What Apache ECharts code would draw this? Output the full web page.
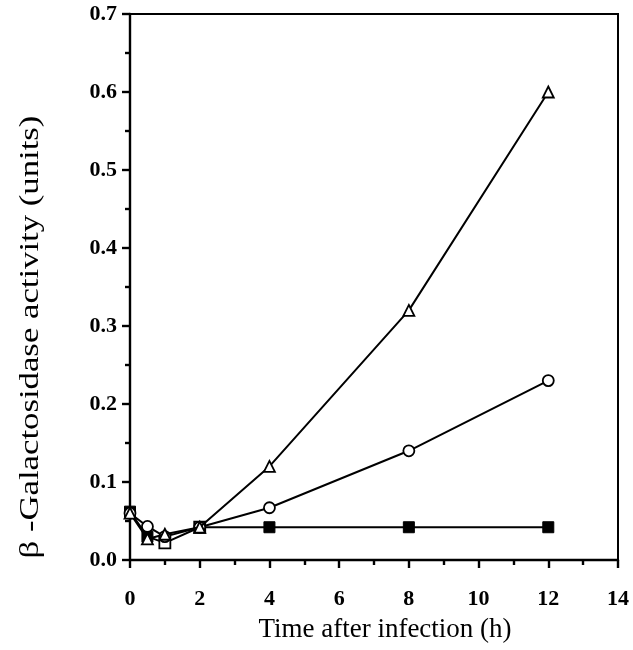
<!DOCTYPE html>
<html><head><meta charset="utf-8">
<script src="https://cdn.jsdelivr.net/npm/echarts@6/dist/echarts.min.js"></script>
<style>html,body{margin:0;padding:0;background:#fff}#c{width:633px;height:650px}</style>
</head><body><div id="c"></div>
<script>
const times = [0, 0.5, 1, 2, 4, 8, 12];
const triangleVals = [0.06, 0.027, 0.033, 0.042, 0.12, 0.32, 0.60];
const circleVals = [0.06, 0.043, 0.030, 0.042, 0.067, 0.14, 0.23];
const squareVals = [0.062, 0.030, 0.022, 0.042, 0.042, 0.042, 0.042];
const xTicks = [0, 2, 4, 6, 8, 10, 12, 14];
const yTicks = [0.0, 0.1, 0.2, 0.3, 0.4, 0.5, 0.6, 0.7];

const chart = echarts.init(document.getElementById('c'), null, {renderer: 'canvas'});
const pts = vals => times.map((t, i) => [t, vals[i]]);
const lineStyle = {color: '#000', width: 2};
const openStyle = {color: '#fff', borderColor: '#000', borderWidth: 1.8};
const filledStyle = {color: '#000', borderColor: '#000', borderWidth: 1};
const tickFont = {fontFamily: 'Liberation Serif', fontWeight: 'bold', fontSize: 22, color: '#000'};

chart.setOption({
  animation: false,
  backgroundColor: '#fff',
  grid: {left: 130, right: 15, top: 14, bottom: 90, show: true, borderColor: '#000', borderWidth: 2, backgroundColor: 'transparent'},
  xAxis: {
    type: 'value', min: xTicks[0], max: xTicks[xTicks.length - 1], interval: 2,
    name: 'Time after infection (h)', nameLocation: 'middle', nameGap: 56,
    nameTextStyle: {fontFamily: 'Liberation Serif', fontSize: 27, color: '#000', padding: [0, 0, 0, 22]},
    axisLine: {lineStyle: {color: '#000', width: 2.4}},
    axisTick: {show: true, inside: false, length: 8, lineStyle: {color: '#000', width: 2.4}},
    minorTick: {show: true, splitNumber: 2, length: 5, lineStyle: {color: '#000', width: 2.4}},
    splitLine: {show: false},
    axisLabel: Object.assign({margin: 28, formatter: v => String(v)}, tickFont)
  },
  yAxis: {
    type: 'value', min: yTicks[0], max: yTicks[yTicks.length - 1], interval: 0.1,
    axisLine: {lineStyle: {color: '#000', width: 2.4}},
    axisTick: {show: true, inside: false, length: 8, lineStyle: {color: '#000', width: 2.4}},
    minorTick: {show: true, splitNumber: 2, length: 5, lineStyle: {color: '#000', width: 2.4}},
    splitLine: {show: false},
    axisLabel: Object.assign({margin: 13, formatter: v => v.toFixed(1)}, tickFont)
  },
  graphic: [{
    type: 'text', x: 31, y: 337, rotation: Math.PI / 2, scaleX: 1.24,
    style: {text: 'β -Galactosidase activity (units)', font: '28px "Liberation Serif"', fill: '#000', textAlign: 'center', textVerticalAlign: 'middle'}
  }],
  series: [
    {
      type: 'line', z: 2,
      data: pts(squareVals).map(p => ({value: p, itemStyle: (p[0] === 1 || p[0] === 2) ? openStyle : filledStyle})),
      symbol: 'rect', symbolSize: 11, showAllSymbol: true,
      lineStyle: lineStyle, itemStyle: filledStyle
    },
    {
      type: 'line', z: 3, data: pts(circleVals),
      symbol: 'circle', symbolSize: 11, showAllSymbol: true,
      lineStyle: lineStyle, itemStyle: openStyle
    },
    {
      type: 'line', z: 4, data: pts(triangleVals),
      symbol: 'triangle', symbolSize: 11, showAllSymbol: true,
      lineStyle: lineStyle, itemStyle: openStyle
    }
  ]
});
</script></body></html>
